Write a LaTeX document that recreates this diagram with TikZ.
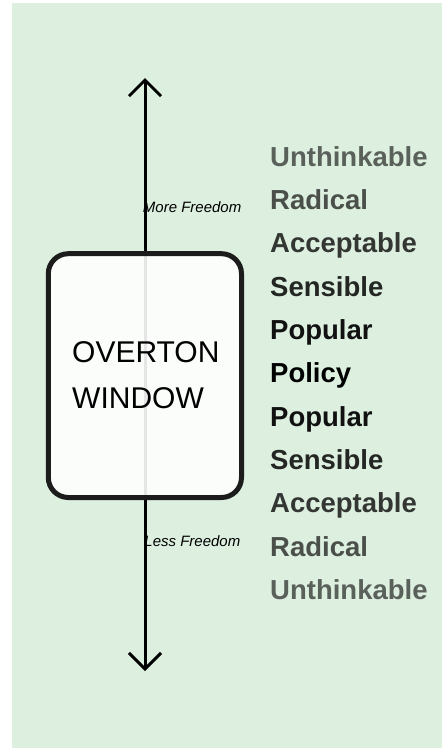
\documentclass[tikz,border=0pt]{standalone}
\usepackage{fontspec}
\setmainfont{Liberation Sans}
\usetikzlibrary{arrows.meta}

\definecolor{bggreen}{HTML}{DDF0E0}
\definecolor{boxline}{HTML}{1C1C1C}
\definecolor{lvlA}{HTML}{5A605A}
\definecolor{lvlB}{HTML}{4A4F4A}
\definecolor{lvlC}{HTML}{333633}
\definecolor{lvlD}{HTML}{242624}
\definecolor{lvlE}{HTML}{111111}
\definecolor{lvlF}{HTML}{000000}

\tikzset{
  axis/.style={line width=3pt, draw=black,
    {Straight Barb[length=16pt,width=32pt]}-{Straight Barb[length=16pt,width=32pt]}},
  window/.style={draw=boxline, line width=5pt, rounded corners=20pt,
    fill=white, fill opacity=0.9},
  title/.style={anchor=base west, inner sep=0pt, font=\fontsize{30}{36}\selectfont},
  dirlabel/.style={anchor=base east, inner sep=0pt, font=\fontsize{15}{18}\selectfont\itshape},
  level/.style={anchor=base west, inner sep=0pt, font=\fontsize{27.5}{33}\selectfont\bfseries},
}

\begin{document}
\begin{tikzpicture}[x=1pt, y=-1pt]
  \useasboundingbox (0,0) rectangle (442,748);
  % backdrop
  \fill[bggreen] (12,3) rectangle (442,748);

  % freedom axis
  \coordinate (top) at (145,78);
  \coordinate (bottom) at (145,671);
  \draw[axis] (top) -- (bottom);

  % the window itself
  \draw[window] (48.3,253.7) rectangle (241.5,497.5);
  \node[title] (t1) at (72,362) {OVERTON};
  \node[title] (t2) at (72,408) {WINDOW};

  % direction labels
  \node[dirlabel] (more) at (241.5,212.3) {More Freedom};
  \node[dirlabel] (less) at (240.5,546) {Less Freedom};

  % scale of acceptability
  \node[level, text=lvlA] (l1)  at (270,166)   {Unthinkable};
  \node[level, text=lvlB] (l2)  at (270,209.3) {Radical};
  \node[level, text=lvlC] (l3)  at (270,252.7) {Acceptable};
  \node[level, text=lvlD] (l4)  at (270,296)   {Sensible};
  \node[level, text=lvlE] (l5)  at (270,339.3) {Popular};
  \node[level, text=lvlF] (l6)  at (270,382.7) {Policy};
  \node[level, text=lvlE] (l7)  at (270,426)   {Popular};
  \node[level, text=lvlD] (l8)  at (270,469.3) {Sensible};
  \node[level, text=lvlC] (l9)  at (270,512.7) {Acceptable};
  \node[level, text=lvlB] (l10) at (270,556)   {Radical};
  \node[level, text=lvlA] (l11) at (270,599.3) {Unthinkable};
\end{tikzpicture}
\end{document}
